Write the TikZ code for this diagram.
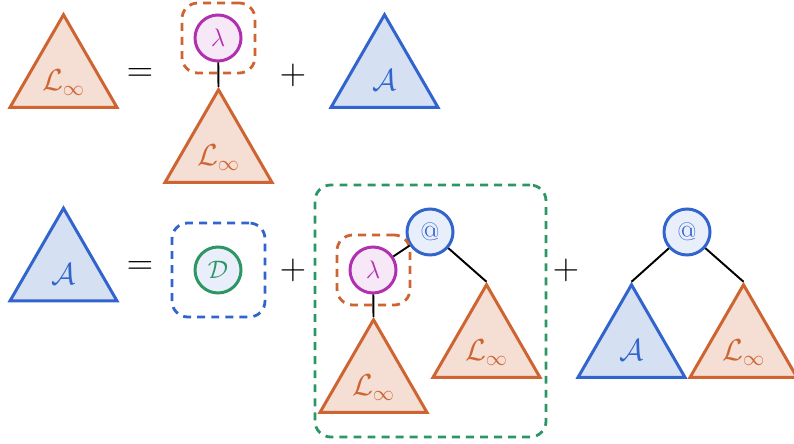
\documentclass[tikz,border=0pt]{standalone}
\usetikzlibrary{shapes.geometric}
\definecolor{lorange}{RGB}{205,100,50}
\definecolor{lorfill}{RGB}{245,222,211}
\definecolor{ablue}{RGB}{50,100,205}
\definecolor{abfill}{RGB}{213,224,243}
\definecolor{lampurple}{RGB}{176,48,176}
\definecolor{lamfill}{RGB}{246,232,246}
\definecolor{dgreen}{RGB}{46,150,100}
\definecolor{termfill}{RGB}{232,238,250}
\begin{document}
\begin{tikzpicture}[
  tri/.style={regular polygon, regular polygon sides=3, minimum size=2.47cm, inner sep=0pt, line width=1.7pt, font=\LARGE, text height=0.62cm, text depth=0.05cm},
  ltri/.style={tri, draw=lorange, fill=lorfill, text=lorange},
  atri/.style={tri, draw=ablue, fill=abfill, text=ablue},
  term/.style={circle, minimum size=0.92cm, inner sep=0pt, line width=1.7pt, font=\Large},
  lam/.style={term, draw=lampurple, fill=lamfill, text=lampurple},
  app/.style={term, draw=ablue, fill=termfill, text=ablue},
  dvar/.style={term, draw=dgreen, fill=termfill, text=dgreen},
  dbox/.style={rectangle, rounded corners=9pt, dash pattern=on 4.5pt off 3.5pt, line width=1.6pt, minimum width=1.46cm, minimum height=1.40cm},
  link/.style={line width=1.1pt},
  op/.style={font=\huge}
]
\useasboundingbox (0,0) rectangle (15.88,8.86);

% L_inf = lambda L_inf + A
\node[ltri] (linf) at (1.27,7.33) {$\mathcal{L}_\infty$};
\node[op] (eq1) at (2.80,7.36) {$=$};
\node[lam] (lam1) at (4.36,8.10) {$\lambda$};
\node[dbox, draw=lorange] (lbox1) at (4.37,8.10) {};
\node[ltri] (linf1) at (4.37,5.83) {$\mathcal{L}_\infty$};
\draw[link] (lam1) -- (linf1.corner 1);
\node[op] (plus1) at (5.86,7.36) {$+$};
\node[atri] (a1) at (7.69,7.33) {$\mathcal{A}$};

% A = D + (lambda L_inf) L_inf + A L_inf
\node[atri] (a) at (1.27,3.46) {$\mathcal{A}$};
\node[op] (eq2) at (2.80,3.50) {$=$};
\node[dbox, draw=ablue, minimum width=1.86cm, minimum height=1.88cm] (dbox) at (4.37,3.46) {};
\node[dvar] (d) at (4.36,3.46) {$\mathcal{D}$};
\node[op] (plus2) at (5.86,3.46) {$+$};

% redex group
\node[dbox, draw=dgreen, minimum width=4.62cm, minimum height=5.04cm] (grp) at (8.61,2.64) {};
\node[app] (app1) at (8.60,4.22) {@};
\node[lam] (lam2) at (7.46,3.46) {$\lambda$};
\node[dbox, draw=lorange] (lbox2) at (7.47,3.46) {};
\node[ltri] (linf2) at (7.47,1.23) {$\mathcal{L}_\infty$};
\node[ltri] (linf3) at (9.73,1.93) {$\mathcal{L}_\infty$};
\draw[link] (lam2) -- (app1);
\draw[link] (lam2) -- (linf2.corner 1);
\draw[link] (app1) -- (linf3.corner 1);

\node[op] (plus3) at (11.32,3.46) {$+$};

% application A L_inf
\node[app] (app2) at (13.74,4.22) {@};
\node[atri] (a2) at (12.63,1.93) {$\mathcal{A}$};
\node[ltri] (linf4) at (14.87,1.93) {$\mathcal{L}_\infty$};
\draw[link] (app2) -- (a2.corner 1);
\draw[link] (app2) -- (linf4.corner 1);
\end{tikzpicture}
\end{document}
